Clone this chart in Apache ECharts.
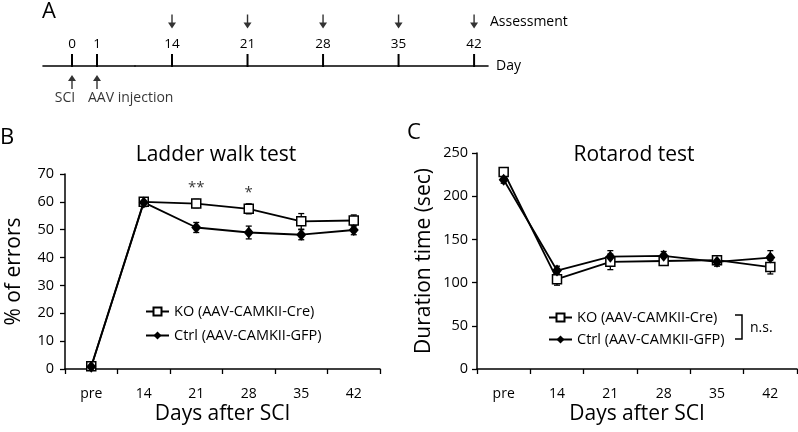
<!DOCTYPE html>
<html>
<head>
<meta charset="utf-8">
<script src="https://cdn.jsdelivr.net/npm/echarts@6/dist/echarts.min.js"></script>
<style>
html,body{margin:0;padding:0;background:#fff;}
#chart{width:798px;height:432px;}
</style>
</head>
<body>
<div id="chart"></div>
<script>
// ---- Data ----
const categories = ['pre', '14', '21', '28', '35', '42'];

// Panel B: Ladder walk test (% of errors)
const koLadder = [1.0, 60.0, 59.4, 57.5, 53.0, 53.3];
const koLadderErr = [0.8, 1.2, 1.5, 1.8, 2.8, 2.0];
const ctrlLadder = [0.8, 59.8, 50.8, 49.0, 48.2, 49.9];
const ctrlLadderErr = [0.5, 1.5, 1.8, 2.3, 1.8, 1.7];
const ladderSig = ['', '', '**', '*', '', ''];

// Panel C: Rotarod test (duration, sec)
const koRotarod = [228, 104, 124, 125, 126, 118];
const koRotarodErr = [4, 7, 9, 5, 5, 8];
const ctrlRotarod = [219, 114, 130, 131, 124, 129];
const ctrlRotarodErr = [4, 5, 7, 5, 5, 8];

// Panel A: timeline
const timelineDays = [0, 1, 14, 21, 28, 35, 42];
const assessmentDays = [14, 21, 28, 35, 42];
const injectionDays = [0, 1];
const injectionLabels = ['SCI', 'AAV injection'];

const koName = 'KO (AAV-CAMKII-Cre)';
const ctrlName = 'Ctrl (AAV-CAMKII-GFP)';

// ---- Rendering ----
const FONT = 'Open Sans';
const chart = echarts.init(document.getElementById('chart'), null, {renderer: 'canvas'});

function errRender(params, api) {
  const x = api.value(0), v = api.value(1), e = api.value(2);
  const top = api.coord([x, v + e]);
  const bot = api.coord([x, v - e]);
  const w = 3;
  const st = {stroke: '#000', lineWidth: 1.3};
  return {
    type: 'group',
    children: [
      {type: 'line', shape: {x1: top[0], y1: top[1], x2: bot[0], y2: bot[1]}, style: st},
      {type: 'line', shape: {x1: top[0] - w, y1: top[1], x2: top[0] + w, y2: top[1]}, style: st},
      {type: 'line', shape: {x1: bot[0] - w, y1: bot[1], x2: bot[0] + w, y2: bot[1]}, style: st}
    ]
  };
}

const errData = (vals, errs) => vals.map((v, i) => [i, v, errs[i]]);

const downArrow = 'path://M3.3,0 L4.7,0 L4.7,8 L8,8 L4,14 L0,8 L3.3,8 Z';
const upArrow = 'path://M4,0 L8,6 L4.7,6 L4.7,14 L3.3,14 L3.3,6 L0,6 Z';

// timeline split in two linear segments (early days / weekly assessments)
const earlyDays = timelineDays.filter(d => d < 7);
const laterDays = timelineDays.filter(d => d >= 7);

function timelineAxis(gridIndex, min, max, ticks, withName) {
  return {
    type: 'value', gridIndex, min, max, position: 'top',
    axisLine: {onZero: false, lineStyle: {color: '#000', width: 1.6}},
    axisTick: {show: false},
    axisLabel: {show: true, margin: 15, customValues: ticks, color: '#000', fontFamily: FONT, fontSize: 13.5},
    splitLine: {show: false},
    name: withName ? 'Day' : '', nameLocation: 'end', nameGap: 8,
    nameTextStyle: {color: '#000', fontFamily: FONT, fontSize: 14, verticalAlign: 'middle', align: 'left'}
  };
}

// day ticks drawn through the timeline axes' scales
function timelineTicks(axisIndex, days) {
  return {
    type: 'custom', xAxisIndex: axisIndex, yAxisIndex: axisIndex,
    data: days.map(d => [d, 1]), silent: true, clip: false, z: 10,
    renderItem: (params, api) => {
      const p = api.coord([api.value(0), api.value(1)]);
      return {
        type: 'rect',
        shape: {x: p[0] - 1, y: p[1] - 12, width: 2, height: 13},
        style: {fill: '#000'}
      };
    }
  };
}

function catXAxis(gridIndex) {
  return {
    type: 'category', gridIndex, data: categories, boundaryGap: true,
    axisLine: {lineStyle: {color: '#000', width: 1.5}},
    axisTick: {show: true, length: 5, lineStyle: {color: '#000', width: 1.3}},
    axisLabel: {color: '#000', fontFamily: FONT, fontSize: 14, margin: 18},
    name: 'Days after SCI', nameLocation: 'middle', nameGap: 35,
    nameTextStyle: {color: '#000', fontFamily: FONT, fontSize: 21},
    splitLine: {show: false}
  };
}

const lineCommon = {
  type: 'line', lineStyle: {color: '#000', width: 1.8}, z: 3
};

const legendCommon = {
  orient: 'vertical', itemWidth: 23, itemHeight: 10, padding: 0,
  data: [koName, ctrlName],
  textStyle: {color: '#000', fontFamily: FONT, fontSize: 14.5},
  selectedMode: false
};

const option = {
  animation: false,
  backgroundColor: '#fff',
  textStyle: {fontFamily: FONT, color: '#000'},
  grid: [
    {left: 43, top: 66, width: 92, height: 30},
    {left: 135, top: 66, width: 353, height: 30},
    {left: 65, top: 174, width: 315, height: 195},
    {left: 477, top: 153, width: 320, height: 216}
  ],
  xAxis: [
    timelineAxis(0, -1.16, 2.52, earlyDays, false),
    timelineAxis(1, 10.57, 43.29, laterDays, true),
    catXAxis(2),
    catXAxis(3)
  ],
  yAxis: [
    {type: 'value', gridIndex: 0, min: 0, max: 1, show: false},
    {type: 'value', gridIndex: 1, min: 0, max: 1, show: false},
    {
      type: 'value', gridIndex: 2, min: 0, max: 70, interval: 10,
      axisLine: {show: true, lineStyle: {color: '#000', width: 1.5}},
      axisTick: {show: true, length: 5, lineStyle: {color: '#000', width: 1.3}},
      axisLabel: {color: '#000', fontFamily: FONT, fontSize: 14.5, margin: 11},
      splitLine: {show: false},
      name: '% of errors', nameLocation: 'middle', nameGap: 40,
      nameTextStyle: {color: '#000', fontFamily: FONT, fontSize: 21}
    },
    {
      type: 'value', gridIndex: 3, min: 0, max: 250, interval: 50,
      axisLine: {show: true, lineStyle: {color: '#000', width: 1.5}},
      axisTick: {show: true, length: 5, lineStyle: {color: '#000', width: 1.3}},
      axisLabel: {color: '#000', fontFamily: FONT, fontSize: 14.5, margin: 9},
      splitLine: {show: false},
      name: 'Duration time (sec)', nameLocation: 'middle', nameGap: 42,
      nameTextStyle: {color: '#000', fontFamily: FONT, fontSize: 21}
    }
  ],
  legend: [
    Object.assign({}, legendCommon, {left: 145, top: 304, itemGap: 9}),
    Object.assign({}, legendCommon, {left: 548, top: 310, itemGap: 7})
  ],
  series: [
    timelineTicks(0, earlyDays),
    timelineTicks(1, laterDays),
    // Panel A: weekly assessments
    {
      type: 'scatter', xAxisIndex: 1, yAxisIndex: 1,
      data: assessmentDays.map(d => [d, 1]),
      symbol: downArrow, symbolSize: [8, 14], symbolOffset: [0, -44.5],
      itemStyle: {color: '#000'}, silent: true, clip: false
    },
    // Panel A: SCI / AAV injection
    {
      type: 'scatter', xAxisIndex: 0, yAxisIndex: 0,
      data: injectionDays.map((d, i) => ({
        value: [d, 1],
        label: i === 0 ? {align: 'center', offset: [-7, 0]} : {align: 'left', offset: [-9, 0]}
      })),
      symbol: upArrow, symbolSize: [8, 14], symbolOffset: [0, 16],
      itemStyle: {color: '#000'}, silent: true, clip: false,
      label: {
        show: true, position: 'bottom', distance: 2,
        formatter: p => injectionLabels[p.dataIndex],
        color: '#000', fontFamily: FONT, fontSize: 14
      }
    },
    // Panel B
    {
      type: 'custom', xAxisIndex: 2, yAxisIndex: 2, renderItem: errRender,
      data: errData(koLadder, koLadderErr), z: 2, silent: true
    },
    {
      type: 'custom', xAxisIndex: 2, yAxisIndex: 2, renderItem: errRender,
      data: errData(ctrlLadder, ctrlLadderErr), z: 2, silent: true
    },
    Object.assign({}, lineCommon, {
      name: koName, xAxisIndex: 2, yAxisIndex: 2, data: koLadder,
      symbol: 'rect', symbolSize: 9,
      itemStyle: {color: '#fff', borderColor: '#000', borderWidth: 1.5}
    }),
    Object.assign({}, lineCommon, {
      name: ctrlName, xAxisIndex: 2, yAxisIndex: 2, data: ctrlLadder,
      symbol: 'diamond', symbolSize: [10, 12],
      itemStyle: {color: '#000', borderColor: '#000', borderWidth: 0}
    }),
    {
      type: 'scatter', xAxisIndex: 2, yAxisIndex: 2,
      data: ladderSig.map((s, i) => s ? [i, koLadder[i] + koLadderErr[i]] : null).filter(Boolean),
      symbolSize: 0, silent: true,
      label: {
        show: true, position: 'top', distance: 4,
        formatter: p => ladderSig[p.value[0]],
        color: '#000', fontFamily: FONT, fontSize: 15
      }
    },
    // Panel C
    {
      type: 'custom', xAxisIndex: 3, yAxisIndex: 3, renderItem: errRender,
      data: errData(koRotarod, koRotarodErr), z: 2, silent: true
    },
    {
      type: 'custom', xAxisIndex: 3, yAxisIndex: 3, renderItem: errRender,
      data: errData(ctrlRotarod, ctrlRotarodErr), z: 2, silent: true
    },
    Object.assign({}, lineCommon, {
      name: koName, xAxisIndex: 3, yAxisIndex: 3, data: koRotarod,
      symbol: 'rect', symbolSize: 9,
      itemStyle: {color: '#fff', borderColor: '#000', borderWidth: 1.5}
    }),
    Object.assign({}, lineCommon, {
      name: ctrlName, xAxisIndex: 3, yAxisIndex: 3, data: ctrlRotarod,
      symbol: 'diamond', symbolSize: [10, 12],
      itemStyle: {color: '#000', borderColor: '#000', borderWidth: 0}
    })
  ],
  graphic: [
    {type: 'text', x: 42, y: 12, style: {text: 'A', font: '22px "Open Sans"', fill: '#000', textVerticalAlign: 'middle'}},
    {type: 'text', x: 0, y: 138, style: {text: 'B', font: '22px "Open Sans"', fill: '#000', textVerticalAlign: 'middle'}},
    {type: 'text', x: 407, y: 133, style: {text: 'C', font: '22px "Open Sans"', fill: '#000', textVerticalAlign: 'middle'}},
    {type: 'text', x: 216, y: 155, style: {text: 'Ladder walk test', font: '21px "Open Sans"', fill: '#000', textAlign: 'center', textVerticalAlign: 'middle'}},
    {type: 'text', x: 634, y: 155, style: {text: 'Rotarod test', font: '21px "Open Sans"', fill: '#000', textAlign: 'center', textVerticalAlign: 'middle'}},
    {type: 'text', x: 490, y: 22, style: {text: 'Assessment', font: '14px "Open Sans"', fill: '#000', textVerticalAlign: 'middle'}},
    {type: 'polyline', shape: {points: [[735, 315], [742, 315], [742, 339], [735, 339]]}, style: {stroke: '#000', lineWidth: 1.5, fill: null}},
    {type: 'text', x: 750, y: 328, style: {text: 'n.s.', font: '14px "Open Sans"', fill: '#000', textVerticalAlign: 'middle'}}
  ]
};

chart.setOption(option);
</script>
</body>
</html>
